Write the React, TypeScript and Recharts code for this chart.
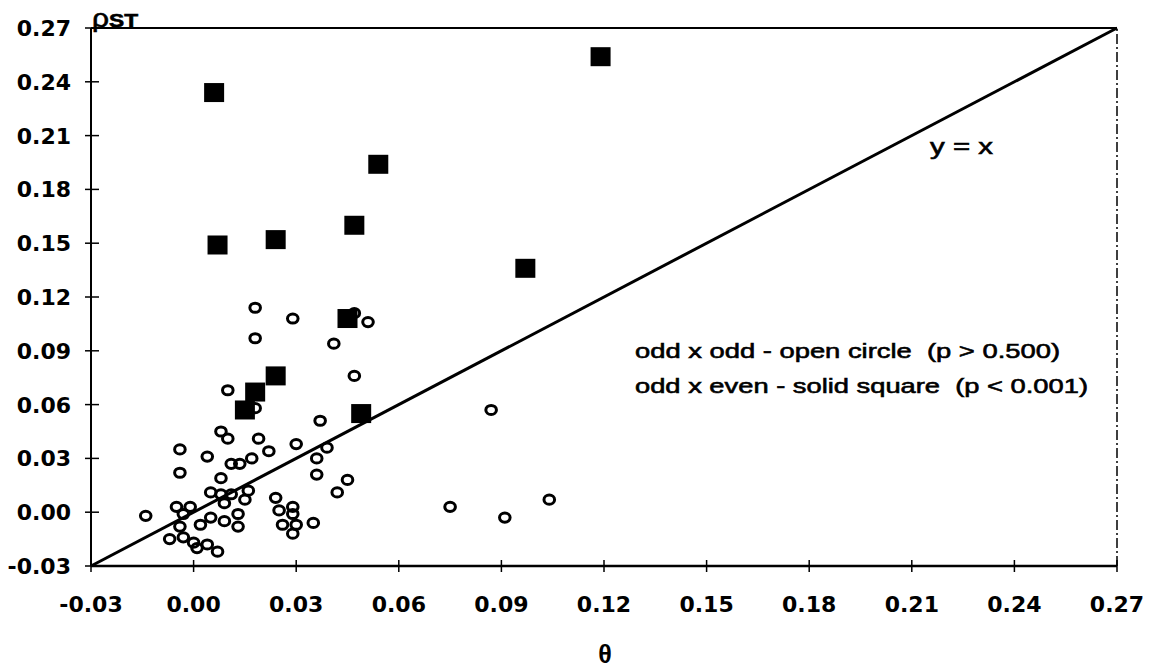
import { ReferenceLine, Scatter, ScatterChart, XAxis, YAxis } from 'recharts';

const axisTicks = [-0.03, 0, 0.03, 0.06, 0.09, 0.12, 0.15, 0.18, 0.21, 0.24, 0.27];

// odd x odd - open circles (theta, rho_ST)
const circleTheta = [
  0.018, 0.029, 0.051, 0.018, 0.041, 0.047, 0.010, 0.018, 0.037, 0.008,
  0.010, 0.019, -0.004, 0.022, 0.030, 0.039, 0.004, 0.011, 0.0135, 0.017,
  0.036, -0.004, 0.008, 0.036, 0.045, 0.042, 0.005, 0.008, 0.011, 0.016,
  0.015, 0.009, 0.024, -0.005, -0.001, -0.014, -0.003, 0.025, 0.029, 0.029,
  0.005, 0.002, 0.009, 0.013, 0.013, -0.004, 0.026, 0.030, 0.035, 0.029,
  -0.007, -0.003, 0.000, 0.001, 0.004, 0.007, 0.087, 0.075, 0.091, 0.104,
  0.047,
];
const circleRho = [
  0.114, 0.108, 0.106, 0.097, 0.094, 0.076, 0.068, 0.058, 0.051, 0.045,
  0.041, 0.041, 0.035, 0.034, 0.038, 0.036, 0.031, 0.027, 0.027, 0.030,
  0.030, 0.022, 0.019, 0.021, 0.018, 0.011, 0.011, 0.010, 0.010, 0.012,
  0.007, 0.005, 0.008, 0.003, 0.003, -0.002, -0.001, 0.001, 0.003, -0.001,
  -0.003, -0.007, -0.005, -0.001, -0.008, -0.008, -0.007, -0.007, -0.006, -0.012,
  -0.015, -0.014, -0.017, -0.020, -0.018, -0.022, 0.057, 0.003, -0.003, 0.007,
  0.111,
];

// odd x even - solid squares
const squareTheta = [0.119, 0.006, 0.054, 0.047, 0.024, 0.007, 0.097, 0.045, 0.024, 0.018, 0.015, 0.049];
const squareRho = [0.254, 0.234, 0.194, 0.160, 0.152, 0.149, 0.136, 0.108, 0.076, 0.067, 0.057, 0.055];

const circles = circleTheta.map((theta, i) => ({ theta, rho: circleRho[i] }));
const squares = squareTheta.map((theta, i) => ({ theta, rho: squareRho[i] }));

const W = 1157;
const H = 667;
const tickFont = '"DejaVu Sans", sans-serif';
const textFont = '"Liberation Sans", Arial, sans-serif';

function XTick(props: any) {
  const { x, y, payload } = props;
  return (
    <g>
      <line x1={x} x2={x} y1={y - 6} y2={y + 6} stroke="#000" strokeWidth={1.5} />
      <text x={x} y={y + 46} textAnchor="middle" fontFamily={tickFont} fontWeight="bold" fontSize={22} fill="#000">
        {payload.value.toFixed(2)}
      </text>
    </g>
  );
}

function YTick(props: any) {
  const { x, y, payload } = props;
  return (
    <g>
      <line x1={x - 6} x2={x + 8} y1={y} y2={y} stroke="#000" strokeWidth={1.5} />
      <text x={x - 20} y={y + 8} textAnchor="end" fontFamily={tickFont} fontWeight="bold" fontSize={22} fill="#000">
        {payload.value.toFixed(2)}
      </text>
    </g>
  );
}

const OpenCircle = (props: any) => (
  <ellipse cx={props.cx} cy={props.cy} rx={5.3} ry={4.6} fill="none" stroke="#000" strokeWidth={3} />
);

const SolidSquare = (props: any) => (
  <rect x={props.cx - 10} y={props.cy - 9.5} width={20} height={19} fill="#000" />
);

const heavy = { stroke: '#000', strokeWidth: 0.6, whiteSpace: 'pre' as const };

export default function App() {
  return (
    <div style={{ position: 'absolute', left: 0, top: 0, width: W, height: H, background: '#fff' }}>
      <ScatterChart width={W} height={H} margin={{ top: 28, right: 40, bottom: 41, left: 0 }}>
        <XAxis
          type="number"
          dataKey="theta"
          domain={[-0.03, 0.27]}
          ticks={axisTicks}
          interval={0}
          allowDataOverflow
          height={60}
          tickSize={0}
          tickMargin={0}
          tickLine={false}
          axisLine={{ stroke: '#000', strokeWidth: 2.5 }}
          tick={<XTick />}
        />
        <YAxis
          type="number"
          dataKey="rho"
          domain={[-0.03, 0.27]}
          ticks={axisTicks}
          interval={0}
          allowDataOverflow
          width={91}
          tickSize={0}
          tickMargin={0}
          tickLine={false}
          axisLine={{ stroke: '#000', strokeWidth: 2 }}
          tick={<YTick />}
        />
        <ReferenceLine y={0.27} stroke="#000" strokeWidth={2} />
        <ReferenceLine x={0.27} stroke="#000" strokeWidth={1.5} strokeDasharray="10 3 2 3" />
        <ReferenceLine
          segment={[
            { x: -0.03, y: -0.03 },
            { x: 0.27, y: 0.27 },
          ]}
          stroke="#000"
          strokeWidth={3}
        />
        <Scatter data={circles} shape={<OpenCircle />} isAnimationActive={false} />
        <Scatter data={squares} shape={<SolidSquare />} isAnimationActive={false} />
      </ScatterChart>
      <svg width={W} height={H} style={{ position: 'absolute', left: 0, top: 0, pointerEvents: 'none' }}>
        <text x={92} y={27} fontFamily={textFont} fill="#000" textLength={46} lengthAdjust="spacingAndGlyphs" style={heavy}>
          <tspan fontSize={25}>ρ</tspan>
          <tspan fontSize={19} fontWeight="bold">ST</tspan>
        </text>
        <text x={930} y={154} fontFamily={textFont} fontSize={22} fill="#000" textLength={63} lengthAdjust="spacingAndGlyphs" style={heavy}>
          y = x
        </text>
        <text x={635} y={358} fontFamily={textFont} fontSize={21} fill="#000" textLength={425} lengthAdjust="spacingAndGlyphs" style={heavy}>
          odd x odd - open circle  (p &gt; 0.500)
        </text>
        <text x={635} y={393} fontFamily={textFont} fontSize={21} fill="#000" textLength={453} lengthAdjust="spacingAndGlyphs" style={heavy}>
          odd x even - solid square  (p &lt; 0.001)
        </text>
        <text x={605} y={663} textAnchor="middle" fontFamily={textFont} fontWeight="bold" fontSize={25} fill="#000">
          θ
        </text>
      </svg>
    </div>
  );
}
